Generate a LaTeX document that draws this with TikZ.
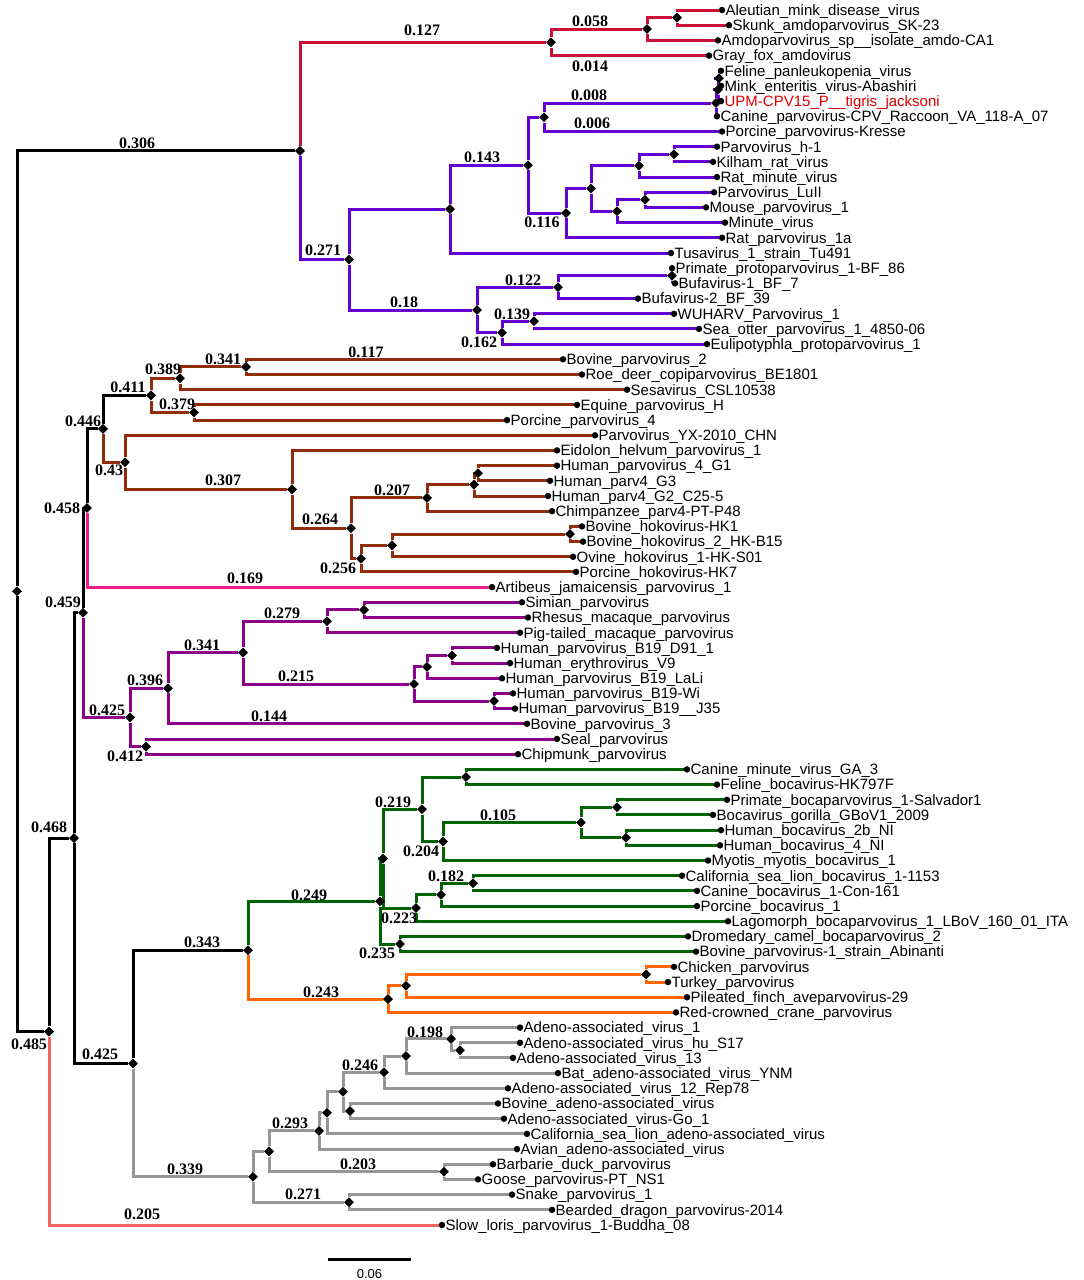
\documentclass[tikz,border=0pt]{standalone}
\usepackage{fontspec}
\setmainfont{Liberation Sans}
\newfontfamily\valfont{Liberation Serif}
\usepackage{tikz}
\usetikzlibrary{shapes.geometric, backgrounds}
\definecolor{amdoc}{RGB}{200,16,56}
\definecolor{protoc}{RGB}{102,0,210}
\definecolor{copic}{RGB}{145,45,10}
\definecolor{artc}{RGB}{235,30,140}
\definecolor{eryc}{RGB}{140,0,140}
\definecolor{bococ}{RGB}{0,100,0}
\definecolor{avec}{RGB}{255,102,0}
\definecolor{depc}{RGB}{150,150,150}
\definecolor{lorisc}{RGB}{240,100,100}
\definecolor{upmc}{RGB}{220,0,0}
\tikzset{%
  br/.style    = {line width=3pt}, % branch
  inner/.style = {diamond, fill=black, inner sep=0pt, minimum size=10pt}, % internal node
  tip/.style   = {circle, fill=black, inner sep=0pt, minimum size=6.5pt, label distance=5pt}, % leaf
  txt/.style   = {font=\fontsize{15}{17}\selectfont, inner sep=0pt, text height=10.7pt, text depth=0pt},
  val/.style   = {font=\valfont\bfseries\fontsize{16}{18}\selectfont, inner sep=0pt}
}
\begin{document}
\begin{tikzpicture}[x=1pt, y=-1pt]
  \useasboundingbox (0,0) rectangle (1084,1280);

  % leaves
  \node[tip, label={[txt]right:Aleutian\_mink\_disease\_virus}] (aleut) at (722,10) {};
  \node[tip, label={[txt]right:Skunk\_amdoparvovirus\_SK-23}] (skunk) at (729,25.2) {};
  \node[tip, label={[txt]right:Amdoparvovirus\_sp\_\_isolate\_amdo-CA1}] (amdoca) at (718,40.4) {};
  \node[tip, label={[txt]right:Gray\_fox\_amdovirus}] (grayfox) at (709,55.6) {};
  \node[tip, label={[txt]right:Feline\_panleukopenia\_virus}] (fpv) at (721,70.8) {};
  \node[tip, label={[txt]right:Mink\_enteritis\_virus-Abashiri}] (mev) at (721,85.9) {};
  \node[tip, label={[txt, text=upmc]right:UPM-CPV15\_P\_\_tigris\_jacksoni}] (upm) at (721,101.1) {};
  \node[tip, label={[txt]right:Canine\_parvovirus-CPV\_Raccoon\_VA\_118-A\_07}] (cpvrac) at (717,116.3) {};
  \node[tip, label={[txt]right:Porcine\_parvovirus-Kresse}] (kresse) at (722,131.5) {};
  \node[tip, label={[txt]right:Parvovirus\_h-1}] (hone) at (717,146.7) {};
  \node[tip, label={[txt]right:Kilham\_rat\_virus}] (kilham) at (713,161.9) {};
  \node[tip, label={[txt]right:Rat\_minute\_virus}] (ratmin) at (717,177.1) {};
  \node[tip, label={[txt]right:Parvovirus\_LuII}] (luiii) at (714,192.3) {};
  \node[tip, label={[txt]right:Mouse\_parvovirus\_1}] (mouse) at (706,207.4) {};
  \node[tip, label={[txt]right:Minute\_virus}] (minute) at (725,222.6) {};
  \node[tip, label={[txt]right:Rat\_parvovirus\_1a}] (ratone) at (722,237.8) {};
  \node[tip, label={[txt]right:Tusavirus\_1\_strain\_Tu491}] (tusa) at (671,253) {};
  \node[tip, label={[txt]right:Primate\_protoparvovirus\_1-BF\_86}] (primproto) at (672,268.2) {};
  \node[tip, label={[txt]right:Bufavirus-1\_BF\_7}] (bufone) at (675,283.4) {};
  \node[tip, label={[txt]right:Bufavirus-2\_BF\_39}] (buftwo) at (638,298.6) {};
  \node[tip, label={[txt]right:WUHARV\_Parvovirus\_1}] (wuharv) at (674,313.8) {};
  \node[tip, label={[txt]right:Sea\_otter\_parvovirus\_1\_4850-06}] (seaotter) at (699,328.9) {};
  \node[tip, label={[txt]right:Eulipotyphla\_protoparvovirus\_1}] (eulip) at (707,344.1) {};
  \node[tip, label={[txt]right:Bovine\_parvovirus\_2}] (bovtwo) at (563,359.3) {};
  \node[tip, label={[txt]right:Roe\_deer\_copiparvovirus\_BE1801}] (roedeer) at (582,374.5) {};
  \node[tip, label={[txt]right:Sesavirus\_CSL10538}] (sesa) at (627,389.7) {};
  \node[tip, label={[txt]right:Equine\_parvovirus\_H}] (equine) at (577,404.9) {};
  \node[tip, label={[txt]right:Porcine\_parvovirus\_4}] (porcfour) at (507,420.1) {};
  \node[tip, label={[txt]right:Parvovirus\_YX-2010\_CHN}] (yx) at (595,435.3) {};
  \node[tip, label={[txt]right:Eidolon\_helvum\_parvovirus\_1}] (eidolon) at (557,450.4) {};
  \node[tip, label={[txt]right:Human\_parvovirus\_4\_G1}] (hgone) at (557,465.6) {};
  \node[tip, label={[txt]right:Human\_parv4\_G3}] (hgthree) at (550,480.8) {};
  \node[tip, label={[txt]right:Human\_parv4\_G2\_C25-5}] (hgtwo) at (548,496) {};
  \node[tip, label={[txt]right:Chimpanzee\_parv4-PT-P48}] (chimp) at (552,511.2) {};
  \node[tip, label={[txt]right:Bovine\_hokovirus-HK1}] (hkone) at (582,526.4) {};
  \node[tip, label={[txt]right:Bovine\_hokovirus\_2\_HK-B15}] (hkbfif) at (583,541.6) {};
  \node[tip, label={[txt]right:Ovine\_hokovirus\_1-HK-S01}] (ovine) at (573,556.8) {};
  \node[tip, label={[txt]right:Porcine\_hokovirus-HK7}] (hkseven) at (576,571.9) {};
  \node[tip, label={[txt]right:Artibeus\_jamaicensis\_parvovirus\_1}] (artib) at (492,587.1) {};
  \node[tip, label={[txt]right:Simian\_parvovirus}] (simian) at (522,602.3) {};
  \node[tip, label={[txt]right:Rhesus\_macaque\_parvovirus}] (rhesus) at (528,617.5) {};
  \node[tip, label={[txt]right:Pig-tailed\_macaque\_parvovirus}] (pigtail) at (520,632.7) {};
  \node[tip, label={[txt]right:Human\_parvovirus\_B19\_D91\_1}] (dnine) at (497,647.9) {};
  \node[tip, label={[txt]right:Human\_erythrovirus\_V9}] (vnine) at (510,663.1) {};
  \node[tip, label={[txt]right:Human\_parvovirus\_B19\_LaLi}] (lali) at (502,678.3) {};
  \node[tip, label={[txt]right:Human\_parvovirus\_B19-Wi}] (wi) at (513,693.4) {};
  \node[tip, label={[txt]right:Human\_parvovirus\_B19\_\_J35}] (jtf) at (515,708.6) {};
  \node[tip, label={[txt]right:Bovine\_parvovirus\_3}] (bovthree) at (527,723.8) {};
  \node[tip, label={[txt]right:Seal\_parvovirus}] (seal) at (557,739) {};
  \node[tip, label={[txt]right:Chipmunk\_parvovirus}] (chipmunk) at (518,754.2) {};
  \node[tip, label={[txt]right:Canine\_minute\_virus\_GA\_3}] (cmv) at (687,769.4) {};
  \node[tip, label={[txt]right:Feline\_bocavirus-HK797F}] (felboca) at (717,784.6) {};
  \node[tip, label={[txt]right:Primate\_bocaparvovirus\_1-Salvador1}] (salvador) at (727,799.8) {};
  \node[tip, label={[txt]right:Bocavirus\_gorilla\_GBoV1\_2009}] (gorilla) at (713,814.9) {};
  \node[tip, label={[txt]right:Human\_bocavirus\_2b\_NI}] (hbtwo) at (721,830.1) {};
  \node[tip, label={[txt]right:Human\_bocavirus\_4\_NI}] (hbfour) at (720,845.3) {};
  \node[tip, label={[txt]right:Myotis\_myotis\_bocavirus\_1}] (myotis) at (708,860.5) {};
  \node[tip, label={[txt]right:California\_sea\_lion\_bocavirus\_1-1153}] (cslboca) at (682,875.7) {};
  \node[tip, label={[txt]right:Canine\_bocavirus\_1-Con-161}] (canboca) at (697,890.9) {};
  \node[tip, label={[txt]right:Porcine\_bocavirus\_1}] (porcboca) at (697,906.1) {};
  \node[tip, label={[txt]right:Lagomorph\_bocaparvovirus\_1\_LBoV\_160\_01\_ITA}] (lago) at (728,921.3) {};
  \node[tip, label={[txt]right:Dromedary\_camel\_bocaparvovirus\_2}] (camel) at (688,936.4) {};
  \node[tip, label={[txt]right:Bovine\_parvovirus-1\_strain\_Abinanti}] (abinanti) at (696,951.6) {};
  \node[tip, label={[txt]right:Chicken\_parvovirus}] (chicken) at (674,966.8) {};
  \node[tip, label={[txt]right:Turkey\_parvovirus}] (turkey) at (668,982) {};
  \node[tip, label={[txt]right:Pileated\_finch\_aveparvovirus-29}] (finch) at (687,997.2) {};
  \node[tip, label={[txt]right:Red-crowned\_crane\_parvovirus}] (crane) at (676,1012.4) {};
  \node[tip, label={[txt]right:Adeno-associated\_virus\_1}] (aavone) at (520,1027.6) {};
  \node[tip, label={[txt]right:Adeno-associated\_virus\_hu\_S17}] (aavhu) at (520,1042.8) {};
  \node[tip, label={[txt]right:Adeno-associated\_virus\_13}] (aavthirt) at (513,1057.9) {};
  \node[tip, label={[txt]right:Bat\_adeno-associated\_virus\_YNM}] (bataav) at (558,1073.1) {};
  \node[tip, label={[txt]right:Adeno-associated\_virus\_12\_Rep78}] (aavtwel) at (508,1088.3) {};
  \node[tip, label={[txt]right:Bovine\_adeno-associated\_virus}] (bovaav) at (498,1103.5) {};
  \node[tip, label={[txt]right:Adeno-associated\_virus-Go\_1}] (aavgo) at (504,1118.7) {};
  \node[tip, label={[txt]right:California\_sea\_lion\_adeno-associated\_virus}] (cslaav) at (527,1133.9) {};
  \node[tip, label={[txt]right:Avian\_adeno-associated\_virus}] (avaav) at (517,1149.1) {};
  \node[tip, label={[txt]right:Barbarie\_duck\_parvovirus}] (barbarie) at (493,1164.3) {};
  \node[tip, label={[txt]right:Goose\_parvovirus-PT\_NS1}] (goose) at (478,1179.4) {};
  \node[tip, label={[txt]right:Snake\_parvovirus\_1}] (snake) at (512,1194.6) {};
  \node[tip, label={[txt]right:Bearded\_dragon\_parvovirus-2014}] (dragon) at (552,1209.8) {};
  \node[tip, label={[txt]right:Slow\_loris\_parvovirus\_1-Buddha\_08}] (loris) at (442,1225) {};

  % internal nodes
  \node[inner] (root) at (17,591.2) {};
  \node[inner] (parvo) at (300,150.9) {};
  \node[inner] (amdo) at (551,42.3) {};
  \node[inner] (amdoA) at (647,29) {};
  \node[inner] (amdoB) at (677,17.6) {};
  \node[inner] (proto) at (349,259.5) {};
  \node[inner] (protoA) at (450,209.1) {};
  \node[inner] (protoB) at (528,165.2) {};
  \node[inner] (cpv) at (544,117.3) {};
  \node[inner] (cpvA) at (716,103) {};
  \node[inner] (cpvB) at (718,89.7) {};
  \node[inner] (cpvC) at (719,78.3) {};
  \node[inner] (rodA) at (566,213.1) {};
  \node[inner] (rodB) at (591,188.5) {};
  \node[inner] (rodC) at (639,165.7) {};
  \node[inner] (rodD) at (674,154.3) {};
  \node[inner] (rodE) at (617,211.2) {};
  \node[inner] (rodF) at (645,199.8) {};
  \node[inner] (bufa) at (477,310) {};
  \node[inner] (bufaA) at (558,287.2) {};
  \node[inner] (bufaB) at (672,275.8) {};
  \node[inner] (wuh) at (502,332.7) {};
  \node[inner] (wuhA) at (534,321.3) {};
  \node[inner] (lower) at (49,1031.6) {};
  \node[inner] (lowerA) at (74,838.1) {};
  \node[inner] (upperA) at (83,612.7) {};
  \node[inner] (upperB) at (87,508) {};
  \node[inner] (copi) at (103,428.9) {};
  \node[inner] (copiA) at (151,395.4) {};
  \node[inner] (copiB) at (180,378.3) {};
  \node[inner] (copiC) at (246,366.9) {};
  \node[inner] (copiD) at (194,412.5) {};
  \node[inner] (tetra) at (125,462.3) {};
  \node[inner] (tetraA) at (292,489.4) {};
  \node[inner] (tetraB) at (351,528.3) {};
  \node[inner] (tetraC) at (427,497.9) {};
  \node[inner] (tetraD) at (474,484.6) {};
  \node[inner] (tetraE) at (478,473.2) {};
  \node[inner] (hoko) at (361,558.7) {};
  \node[inner] (hokoA) at (392,545.4) {};
  \node[inner] (hokoB) at (570,534) {};
  \node[inner] (ery) at (130,717.4) {};
  \node[inner] (eryA) at (168,688.2) {};
  \node[inner] (eryB) at (243,652.6) {};
  \node[inner] (eryC) at (327,621.3) {};
  \node[inner] (eryD) at (364,609.9) {};
  \node[inner] (eryE) at (414,684) {};
  \node[inner] (eryF) at (427,666.9) {};
  \node[inner] (eryG) at (452,655.5) {};
  \node[inner] (eryH) at (494,701) {};
  \node[inner] (eryI) at (146,746.6) {};
  \node[inner] (mid) at (133,1063.5) {};
  \node[inner] (bocaave) at (248,950.2) {};
  \node[inner] (boca) at (380,901.3) {};
  \node[inner] (bocaA) at (383,858.6) {};
  \node[inner] (bocaB) at (422,809.3) {};
  \node[inner] (bocaC) at (466,777) {};
  \node[inner] (bocaD) at (443,841.5) {};
  \node[inner] (bocaE) at (581,822.5) {};
  \node[inner] (bocaF) at (617,807.3) {};
  \node[inner] (bocaG) at (626,837.7) {};
  \node[inner] (bocaH) at (416,908) {};
  \node[inner] (bocaI) at (441,894.7) {};
  \node[inner] (bocaJ) at (473,883.3) {};
  \node[inner] (bocaK) at (400,944) {};
  \node[inner] (ave) at (388,999.1) {};
  \node[inner] (aveA) at (406,985.8) {};
  \node[inner] (aveB) at (646,974.4) {};
  \node[inner] (dep) at (253,1176.8) {};
  \node[inner] (depA) at (269,1151.4) {};
  \node[inner] (depB) at (319,1130.9) {};
  \node[inner] (depC) at (327,1112.8) {};
  \node[inner] (depD) at (343,1091.7) {};
  \node[inner] (depE) at (384,1072.2) {};
  \node[inner] (depF) at (406,1056) {};
  \node[inner] (depG) at (451,1038.9) {};
  \node[inner] (depH) at (460,1050.3) {};
  \node[inner] (depI) at (350,1111.1) {};
  \node[inner] (depJ) at (444,1171.8) {};
  \node[inner] (depK) at (349,1202.2) {};

  % branch values
  \node[val] (v127) at (422,30) {0.127};
  \node[val] (v058) at (590,21) {0.058};
  \node[val] (v014) at (590,66) {0.014};
  \node[val] (v008) at (589,95) {0.008};
  \node[val] (v006) at (592,123) {0.006};
  \node[val] (v306) at (137,143) {0.306};
  \node[val] (v143) at (482,157) {0.143};
  \node[val] (v116) at (542,222) {0.116};
  \node[val] (v271a) at (323,250) {0.271};
  \node[val] (v18) at (404,302) {0.18};
  \node[val] (v122) at (523,280) {0.122};
  \node[val] (v139) at (512,314) {0.139};
  \node[val] (v162) at (479,342) {0.162};
  \node[val] (v117) at (366,352) {0.117};
  \node[val] (v341a) at (223,359) {0.341};
  \node[val] (v389) at (163,369) {0.389};
  \node[val] (v411) at (128,387) {0.411};
  \node[val] (v379) at (177,404) {0.379};
  \node[val] (v446) at (83,421) {0.446};
  \node[val] (v43) at (109,470) {0.43};
  \node[val] (v307) at (223,480) {0.307};
  \node[val] (v207) at (392,490) {0.207};
  \node[val] (v264) at (320,519) {0.264};
  \node[val] (v256) at (338,568) {0.256};
  \node[val] (v169) at (245,578) {0.169};
  \node[val] (v458) at (62,508) {0.458};
  \node[val] (v459) at (63,602) {0.459};
  \node[val] (v279) at (282,613) {0.279};
  \node[val] (v341b) at (202,645) {0.341};
  \node[val] (v215) at (296,676) {0.215};
  \node[val] (v396) at (145,680) {0.396};
  \node[val] (v425a) at (107,710) {0.425};
  \node[val] (v144) at (269,716) {0.144};
  \node[val] (v412) at (125,756) {0.412};
  \node[val] (v219) at (393,802) {0.219};
  \node[val] (v105) at (498,815) {0.105};
  \node[val] (v468) at (49,827) {0.468};
  \node[val] (v204) at (421,851) {0.204};
  \node[val] (v182) at (446,876) {0.182};
  \node[val] (v249) at (309,895) {0.249};
  \node[val] (v223) at (399,918) {0.223};
  \node[val] (v343) at (202,942) {0.343};
  \node[val] (v235) at (377,953) {0.235};
  \node[val] (v243) at (321,992) {0.243};
  \node[val] (v198) at (425,1032) {0.198};
  \node[val] (v485) at (29,1044) {0.485};
  \node[val] (v425b) at (100,1054) {0.425};
  \node[val] (v246) at (360,1065) {0.246};
  \node[val] (v293) at (290,1123) {0.293};
  \node[val] (v203) at (358,1164) {0.203};
  \node[val] (v339) at (185,1169) {0.339};
  \node[val] (v271b) at (303,1194) {0.271};
  \node[val] (v205) at (142,1214) {0.205};

  % scale bar
  \coordinate (sbl) at (328,1259);
  \coordinate (sbr) at (411,1259);
  \node[font=\fontsize{13}{15}\selectfont, inner sep=0pt] (sbt) at (369.5,1274) {0.06};

  \begin{scope}[on background layer]
  \fill[white] (0,0) rectangle (1084,1280);
  \draw[br] (sbl) -- (sbr);
  \draw[br] (root) |- (parvo) (root) |- (lower);
  \draw[br, amdoc] (parvo) |- (amdo);
  \draw[br, protoc] (parvo) |- (proto);
  \draw[br, amdoc] (amdo) |- (amdoA) (amdo) |- (grayfox);
  \draw[br, amdoc] (amdoA) |- (amdoB) (amdoA) |- (amdoca);
  \draw[br, amdoc] (amdoB) |- (aleut) (amdoB) |- (skunk);
  \draw[br, protoc] (proto) |- (protoA) (proto) |- (bufa);
  \draw[br, protoc] (protoA) |- (protoB) (protoA) |- (tusa);
  \draw[br, protoc] (protoB) |- (cpv) (protoB) |- (rodA);
  \draw[br, protoc] (cpv) |- (cpvA) (cpv) |- (kresse);
  \draw[br, protoc] (cpvA) |- (cpvB) (cpvA) |- (cpvrac);
  \draw[br, protoc] (cpvB) |- (cpvC) (cpvB) |- (upm);
  \draw[br, protoc] (cpvC) |- (fpv) (cpvC) |- (mev);
  \draw[br, protoc] (rodA) |- (rodB) (rodA) |- (ratone);
  \draw[br, protoc] (rodB) |- (rodC) (rodB) |- (rodE);
  \draw[br, protoc] (rodC) |- (rodD) (rodC) |- (ratmin);
  \draw[br, protoc] (rodD) |- (hone) (rodD) |- (kilham);
  \draw[br, protoc] (rodE) |- (rodF) (rodE) |- (minute);
  \draw[br, protoc] (rodF) |- (luiii) (rodF) |- (mouse);
  \draw[br, protoc] (bufa) |- (bufaA) (bufa) |- (wuh);
  \draw[br, protoc] (bufaA) |- (bufaB) (bufaA) |- (buftwo);
  \draw[br, protoc] (bufaB) |- (primproto) (bufaB) |- (bufone);
  \draw[br, protoc] (wuh) |- (wuhA) (wuh) |- (eulip);
  \draw[br, protoc] (wuhA) |- (wuharv) (wuhA) |- (seaotter);
  \draw[br] (lower) |- (lowerA);
  \draw[br, lorisc] (lower) |- (loris);
  \draw[br] (lowerA) |- (upperA) (lowerA) |- (mid);
  \draw[br] (upperA) |- (upperB);
  \draw[br, eryc] (upperA) |- (ery);
  \draw[br] (upperB) |- (copi);
  \draw[br, artc] (upperB) |- (artib);
  \draw[br] (copi) |- (copiA);
  \draw[br, copic] (copi) |- (tetra);
  \draw[br, copic] (copiA) |- (copiB) (copiA) |- (copiD);
  \draw[br, copic] (copiB) |- (copiC) (copiB) |- (sesa);
  \draw[br, copic] (copiC) |- (bovtwo) (copiC) |- (roedeer);
  \draw[br, copic] (copiD) |- (equine) (copiD) |- (porcfour);
  \draw[br, copic] (tetra) |- (yx) (tetra) |- (tetraA);
  \draw[br, copic] (tetraA) |- (eidolon) (tetraA) |- (tetraB);
  \draw[br, copic] (tetraB) |- (tetraC) (tetraB) |- (hoko);
  \draw[br, copic] (tetraC) |- (tetraD) (tetraC) |- (chimp);
  \draw[br, copic] (tetraD) |- (tetraE) (tetraD) |- (hgtwo);
  \draw[br, copic] (tetraE) |- (hgone) (tetraE) |- (hgthree);
  \draw[br, copic] (hoko) |- (hokoA) (hoko) |- (hkseven);
  \draw[br, copic] (hokoA) |- (hokoB) (hokoA) |- (ovine);
  \draw[br, copic] (hokoB) |- (hkone) (hokoB) |- (hkbfif);
  \draw[br, eryc] (ery) |- (eryA) (ery) |- (eryI);
  \draw[br, eryc] (eryA) |- (eryB) (eryA) |- (bovthree);
  \draw[br, eryc] (eryB) |- (eryC) (eryB) |- (eryE);
  \draw[br, eryc] (eryC) |- (eryD) (eryC) |- (pigtail);
  \draw[br, eryc] (eryD) |- (simian) (eryD) |- (rhesus);
  \draw[br, eryc] (eryE) |- (eryF) (eryE) |- (eryH);
  \draw[br, eryc] (eryF) |- (eryG) (eryF) |- (lali);
  \draw[br, eryc] (eryG) |- (dnine) (eryG) |- (vnine);
  \draw[br, eryc] (eryH) |- (wi) (eryH) |- (jtf);
  \draw[br, eryc] (eryI) |- (seal) (eryI) |- (chipmunk);
  \draw[br] (mid) |- (bocaave);
  \draw[br, depc] (mid) |- (dep);
  \draw[br, bococ] (bocaave) |- (boca);
  \draw[br, avec] (bocaave) |- (ave);
  \draw[br, bococ] (boca) |- (bocaA) (boca) |- (bocaK);
  \draw[br, bococ] (bocaA) |- (bocaB) (bocaA) |- (bocaH);
  \draw[br, bococ] (bocaB) |- (bocaC) (bocaB) |- (bocaD);
  \draw[br, bococ] (bocaC) |- (cmv) (bocaC) |- (felboca);
  \draw[br, bococ] (bocaD) |- (bocaE) (bocaD) |- (myotis);
  \draw[br, bococ] (bocaE) |- (bocaF) (bocaE) |- (bocaG);
  \draw[br, bococ] (bocaF) |- (salvador) (bocaF) |- (gorilla);
  \draw[br, bococ] (bocaG) |- (hbtwo) (bocaG) |- (hbfour);
  \draw[br, bococ] (bocaH) |- (bocaI) (bocaH) |- (lago);
  \draw[br, bococ] (bocaI) |- (bocaJ) (bocaI) |- (porcboca);
  \draw[br, bococ] (bocaJ) |- (cslboca) (bocaJ) |- (canboca);
  \draw[br, bococ] (bocaK) |- (camel) (bocaK) |- (abinanti);
  \draw[br, avec] (ave) |- (aveA) (ave) |- (crane);
  \draw[br, avec] (aveA) |- (aveB) (aveA) |- (finch);
  \draw[br, avec] (aveB) |- (chicken) (aveB) |- (turkey);
  \draw[br, depc] (dep) |- (depA) (dep) |- (depK);
  \draw[br, depc] (depA) |- (depB) (depA) |- (depJ);
  \draw[br, depc] (depB) |- (depC) (depB) |- (avaav);
  \draw[br, depc] (depC) |- (depD) (depC) |- (cslaav);
  \draw[br, depc] (depD) |- (depE) (depD) |- (depI);
  \draw[br, depc] (depE) |- (depF) (depE) |- (aavtwel);
  \draw[br, depc] (depF) |- (depG) (depF) |- (bataav);
  \draw[br, depc] (depG) |- (aavone) (depG) |- (depH);
  \draw[br, depc] (depH) |- (aavhu) (depH) |- (aavthirt);
  \draw[br, depc] (depI) |- (bovaav) (depI) |- (aavgo);
  \draw[br, depc] (depJ) |- (barbarie) (depJ) |- (goose);
  \draw[br, depc] (depK) |- (snake) (depK) |- (dragon);
  \end{scope}

\end{tikzpicture}
\end{document}
